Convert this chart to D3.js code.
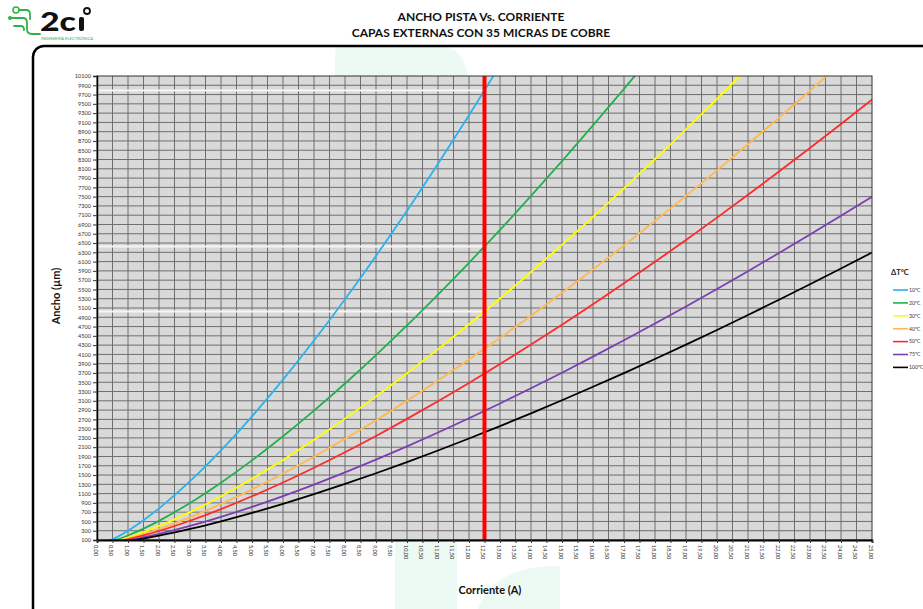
<!DOCTYPE html>
<html>
<head>
<meta charset="utf-8">
<script src="https://cdn.jsdelivr.net/npm/d3@7"></script>
<style>
  html, body { margin: 0; padding: 0; background: #fff; }
  svg { display: block; font-family: Lato, "Open Sans", sans-serif; }
</style>
</head>
<body>
<svg id="chart" width="923" height="609"></svg>
<script>
// Current (A) sampled along the x axis
const currents = [0, 0.5, 1, 1.5, 2, 3, 4, 5, 6, 7, 8, 9, 10, 11, 12, 13,
                  14, 15, 16, 17, 18, 19, 20, 21, 22, 23, 24, 25];

// Track width (µm) for each temperature rise, external layer, 35 µm copper
const dt10  = [0, 115, 300, 526, 781, 1367, 2033, 2766, 3556, 4398, 5289, 6222, 7195, 8207, 9252, 10331];
const dt20  = [0, 76, 197, 345, 513, 898, 1335, 1816, 2335, 2888, 3473, 4086, 4724, 5389, 6075, 6783,
               7515, 8265, 9034, 9821, 10626];
const dt30  = [0, 59, 154, 270, 401, 702, 1044, 1420, 1826, 2258, 2716, 3195, 3694, 4214, 4750, 5304,
               5876, 6462, 7064, 7679, 8308, 8951, 9607, 10276];
const dt40  = [0, 50, 130, 227, 337, 589, 877, 1192, 1533, 1896, 2280, 2683, 3102, 3538, 3989, 4454,
               4934, 5427, 5932, 6448, 6977, 7517, 8067, 8629, 9203, 9783, 10376];
const dt50  = [0, 44, 113, 198, 294, 515, 766, 1042, 1339, 1657, 1992, 2343, 2710, 3091, 3485, 3891,
               4311, 4741, 5182, 5633, 6095, 6567, 7048, 7539, 8040, 8547, 9065, 9590];
const dt75  = [0, 34, 88, 155, 230, 403, 599, 814, 1047, 1295, 1557, 1832, 2118, 2416, 2724, 3042,
               3370, 3706, 4051, 4404, 4765, 5134, 5510, 5894, 6285, 6682, 7087, 7497];
const dt100 = [0, 29, 74, 130, 193, 338, 503, 684, 879, 1088, 1308, 1539, 1779, 2029, 2288, 2554,
               2830, 3112, 3402, 3698, 4001, 4311, 4627, 4949, 5278, 5611, 5951, 6296];

const seriesNames  = ["10ºC", "20ºC", "30ºC", "40ºC", "50ºC", "75ºC", "100ºC"];
const seriesValues = [dt10, dt20, dt30, dt40, dt50, dt75, dt100];
const seriesColors = ["#2cb2ea", "#22b04e", "#ffff00", "#ffb84d", "#ff2a2a", "#7a3fb0", "#000000"];

// Design current and the widths read where the first three curves cross it
const designCurrent = 12.5;
const crossingWidths = [9790, 6426, 5025];

// Axis ticks
const xTicks = d3.range(0, 25.001, 0.5);
const yTicks = d3.range(100, 10101, 200);

const titleLines = ["ANCHO PISTA Vs. CORRIENTE", "CAPAS EXTERNAS CON 35 MICRAS DE COBRE"];

const svg = d3.select("#chart");
const plot = { left: 97, right: 872, top: 76, bottom: 540 };

const x = d3.scaleLinear().domain([0, 25]).range([plot.left, plot.right]);
const y = d3.scaleLinear().domain([100, 10100]).range([plot.bottom, plot.top]);

// faint watermark shapes behind the chart
const wm = svg.append("g").attr("fill", "#edf9f3");
wm.append("path").attr("d", "M335,76 L335,52 Q335,46 345,46 L440,46 Q462,46 468,76 Z");
wm.append("rect").attr("x", 395).attr("y", 540).attr("width", 62).attr("height", 69);
wm.append("path").attr("d", "M478,609 Q490,572 545,566 L560,566 L560,609 Z");

// outer rounded frame
svg.append("rect")
  .attr("x", 33).attr("y", 46).attr("width", 960).attr("height", 620)
  .attr("rx", 11).attr("fill", "none").attr("stroke", "#000").attr("stroke-width", 2.5);

// logo
const logo = svg.append("g");
const g1 = "#2db34a";
logo.append("circle").attr("cx", 16).attr("cy", 10).attr("r", 3).attr("fill", "none").attr("stroke", g1).attr("stroke-width", 1.6);
logo.append("path").attr("d", "M19,10 L26,10 Q30,10 30,14 L30,19 M12,18 L23,18 Q27,18 27,23 L27,29 Q27,34 32,34 L40,34 M14,26 L21,26 Q24,26 24,30")
  .attr("fill", "none").attr("stroke", g1).attr("stroke-width", 1.8).attr("stroke-linecap", "round");
logo.append("circle").attr("cx", 10).attr("cy", 18).attr("r", 2).attr("fill", g1);
logo.append("text").attr("x", 40).attr("y", 31).attr("font-size", 26).attr("font-weight", 900)
  .attr("textLength", 36).attr("lengthAdjust", "spacingAndGlyphs")
  .attr("fill", "#111").text("2c");
logo.append("rect").attr("x", 79).attr("y", 17).attr("width", 5).attr("height", 14).attr("rx", 2).attr("fill", "#111");
logo.append("circle").attr("cx", 87).attr("cy", 11).attr("r", 3).attr("fill", "none").attr("stroke", "#111").attr("stroke-width", 1.8);
logo.append("text").attr("x", 41).attr("y", 40).attr("font-size", 3.6).attr("fill", g1)
  .attr("textLength", 52).attr("lengthAdjust", "spacingAndGlyphs").text("INGENIERÍA ELECTRÓNICA");

// title
svg.append("g").selectAll("text").data(titleLines).join("text")
  .attr("x", 481).attr("y", (d, i) => 21 + i * 16)
  .attr("text-anchor", "middle").attr("font-size", 12).attr("font-weight", 700)
  .attr("fill", "#111").text(d => d);

// plot background
svg.append("rect")
  .attr("x", plot.left).attr("y", plot.top)
  .attr("width", plot.right - plot.left).attr("height", plot.bottom - plot.top)
  .attr("fill", "#d9d9d9");

// gridlines
const grid = svg.append("g").attr("stroke", "#6e6e6e").attr("stroke-width", 1);
grid.selectAll("line.v").data(xTicks.slice(1, -1)).join("line")
  .attr("x1", d => x(d)).attr("x2", d => x(d))
  .attr("y1", plot.top).attr("y2", plot.bottom);
grid.selectAll("line.h").data(yTicks.slice(1, -1)).join("line")
  .attr("y1", d => y(d)).attr("y2", d => y(d))
  .attr("x1", plot.left).attr("x2", plot.right);

// marker lines at the design current
svg.append("g").selectAll("line").data(crossingWidths).join("line")
  .attr("x1", plot.left).attr("x2", x(designCurrent))
  .attr("y1", d => y(d)).attr("y2", d => y(d))
  .attr("stroke", "#f6f6f6").attr("stroke-width", 2);

// clip region for the curves
svg.append("clipPath").attr("id", "plotClip").append("rect")
  .attr("x", plot.left).attr("y", plot.top)
  .attr("width", plot.right - plot.left).attr("height", plot.bottom - plot.top);

const line = d3.line()
  .x((d, i) => x(currents[i]))
  .y(d => y(d))
  .curve(d3.curveMonotoneX);

svg.append("g").attr("clip-path", "url(#plotClip)")
  .selectAll("path").data(seriesValues).join("path")
  .attr("d", d => line(d))
  .attr("fill", "none")
  .attr("stroke", (d, i) => seriesColors[i])
  .attr("stroke-width", 1.8);

// design current line
svg.append("line")
  .attr("x1", x(designCurrent)).attr("x2", x(designCurrent))
  .attr("y1", plot.top).attr("y2", plot.bottom)
  .attr("stroke", "#ff0000").attr("stroke-width", 4);

// plot border
svg.append("rect")
  .attr("x", plot.left).attr("y", plot.top)
  .attr("width", plot.right - plot.left).attr("height", plot.bottom - plot.top)
  .attr("fill", "none").attr("stroke", "#333").attr("stroke-width", 1);

// axes
const fmtX = v => d3.format(".2f")(v).replace(".", ",");

const yAxis = svg.append("g")
  .attr("transform", `translate(${plot.left},0)`)
  .call(d3.axisLeft(y).tickValues(yTicks).tickSize(4).tickPadding(2).tickFormat(d3.format("d")));
yAxis.select(".domain").attr("stroke", "#000").attr("stroke-width", 1.5);
yAxis.selectAll(".tick line").attr("stroke", "#333");
yAxis.selectAll(".tick text").attr("font-size", 5.6).attr("fill", "#333")
  .attr("font-family", "Lato, sans-serif");

const xAxis = svg.append("g")
  .attr("transform", `translate(0,${plot.bottom})`)
  .call(d3.axisBottom(x).tickValues(xTicks).tickSize(3).tickFormat(fmtX));
xAxis.select(".domain").attr("stroke", "#000").attr("stroke-width", 1.8);
xAxis.selectAll(".tick line").attr("stroke", "#333");
xAxis.selectAll(".tick text")
  .attr("font-size", 5.6).attr("fill", "#333").attr("font-family", "Lato, sans-serif")
  .attr("text-anchor", "start")
  .attr("transform", "translate(-2,5) rotate(90)")
  .attr("x", 0).attr("y", 0).attr("dy", "0.35em");

// axis titles
svg.append("text")
  .attr("transform", "translate(60,296) rotate(-90)")
  .attr("text-anchor", "middle").attr("font-size", 11).attr("font-weight", 700)
  .attr("fill", "#111").text("Ancho (µm)");
svg.append("text")
  .attr("x", 490).attr("y", 594)
  .attr("text-anchor", "middle").attr("font-size", 11).attr("font-weight", 700)
  .attr("fill", "#111").text("Corriente (A)");

// legend
const legend = svg.append("g");
legend.append("text").attr("x", 891).attr("y", 275)
  .attr("font-size", 7.5).attr("font-weight", 700).attr("fill", "#222").text("ΔT°C");
const items = legend.selectAll("g.item").data(seriesNames).join("g")
  .attr("transform", (d, i) => `translate(0,${290 + i * 12.9})`);
items.append("line").attr("x1", 893).attr("x2", 908).attr("y1", 0).attr("y2", 0)
  .attr("stroke", (d, i) => seriesColors[i]).attr("stroke-width", 1.6);
items.append("text").attr("x", 909).attr("y", 0).attr("dy", "0.35em")
  .attr("font-size", 5.2).attr("fill", "#333").text(d => d);
</script>
</body>
</html>
